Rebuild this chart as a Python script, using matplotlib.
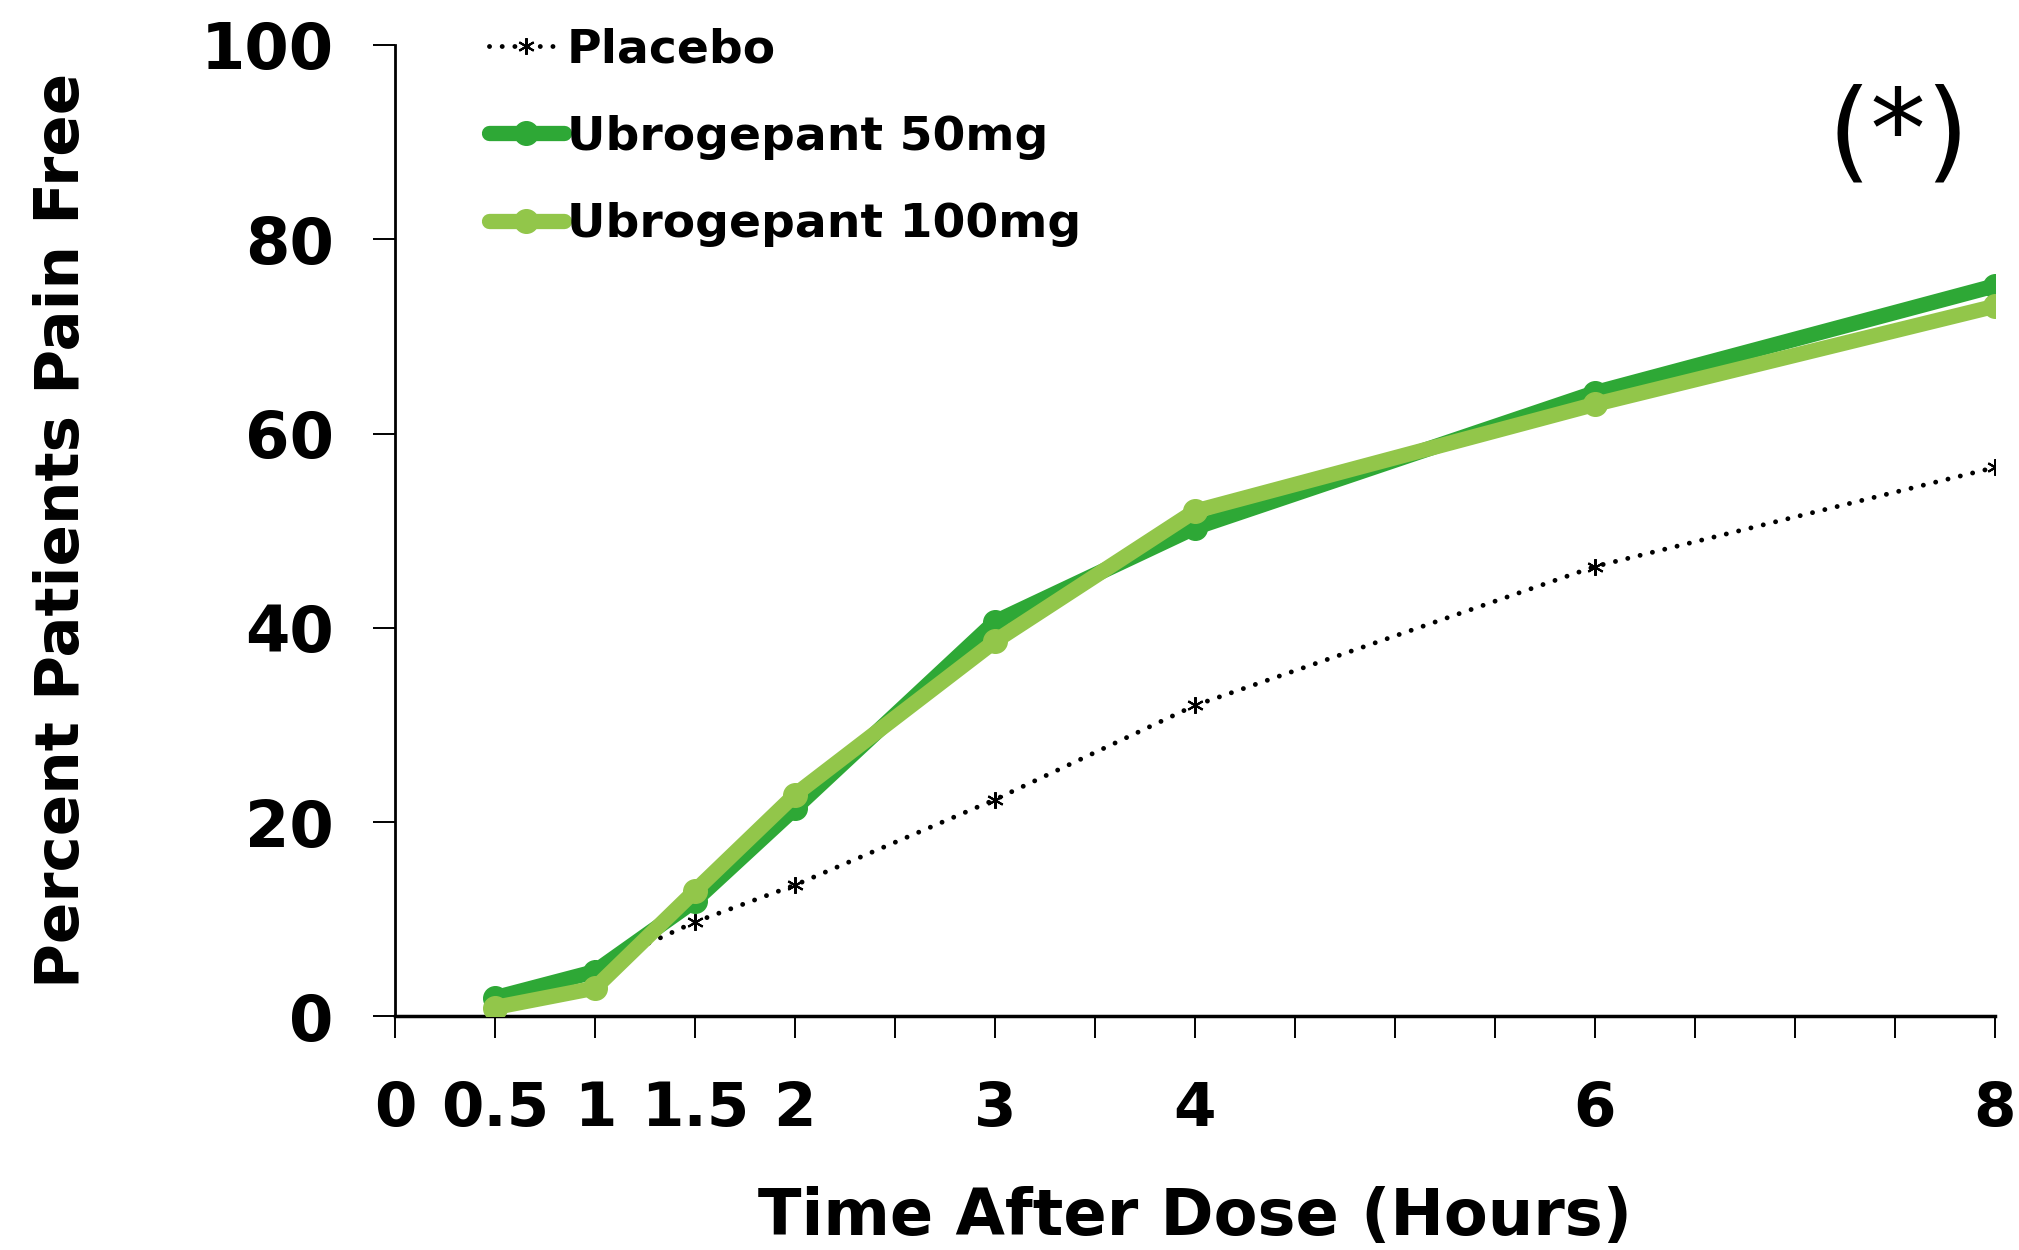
import matplotlib.pyplot as plt

# Data
hours = [0.5, 1, 1.5, 2, 3, 4, 6, 8]
placebo = [1.5, 5.0, 9.7, 13.5, 22.3, 32.0, 46.3, 56.5]
ubro_50 = [1.9, 4.6, 11.9, 21.4, 40.6, 50.3, 64.2, 75.2]
ubro_100 = [0.9, 2.9, 12.9, 22.8, 38.6, 52.0, 63.0, 73.1]

x_ticks = [i * 0.5 for i in range(17)]
x_labeled = [0, 0.5, 1, 1.5, 2, 3, 4, 6, 8]
y_ticks = [0, 20, 40, 60, 80, 100]

dark_green = "#2EA836"
light_green = "#92C64A"

plt.rcParams["font.family"] = ["DejaVu Sans"]

fig = plt.figure(figsize=(20.19, 12.5), dpi=100)
ax = fig.add_axes([0.1956, 0.187, 0.7924, 0.777])

ax.plot(hours, placebo, color="black", linewidth=3.5, linestyle=(0, (0.01, 2.6)),
        dash_capstyle="round", marker=(6, 2, 0), markersize=12, markeredgewidth=1.5,
        label="Placebo", zorder=2)
ax.plot(hours, ubro_50, color=dark_green, linewidth=11, marker="o", markersize=17,
        solid_capstyle="round", solid_joinstyle="round", label="Ubrogepant 50mg", zorder=3)
ax.plot(hours, ubro_100, color=light_green, linewidth=11, marker="o", markersize=17,
        solid_capstyle="round", solid_joinstyle="round", label="Ubrogepant 100mg", zorder=4)

ax.set_xlim(0, 8)
ax.set_ylim(0, 100)
ax.set_xticks(x_ticks)
ax.set_xticklabels([f"{t:g}" if t in x_labeled else "" for t in x_ticks])
ax.set_yticks(y_ticks)

for side in ["top", "right"]:
    ax.spines[side].set_visible(False)
ax.spines["left"].set_linewidth(2)
ax.spines["bottom"].set_linewidth(2.5)

ax.tick_params(axis="both", direction="out", length=16, width=1.4)
ax.tick_params(axis="x", pad=30, labelsize=44)
ax.tick_params(axis="y", pad=28, labelsize=46)
for lbl in ax.get_xticklabels() + ax.get_yticklabels():
    lbl.set_fontweight("bold")

ax.set_xlabel("Time After Dose (Hours)", fontsize=46, fontweight="bold", labelpad=34)
ax.set_ylabel("Percent Patients Pain Free", fontsize=44, fontweight="bold", labelpad=78)

ax.text(7.52, 90.5, "(*)", fontsize=80, ha="center", va="center")

leg = ax.legend(loc="upper left", bbox_to_anchor=(0.032, 1.062), frameon=False,
                handlelength=1.6, handletextpad=0.05, labelspacing=0.9,
                prop={"weight": "bold", "size": 34})

fig.savefig("out.png", dpi=100)
